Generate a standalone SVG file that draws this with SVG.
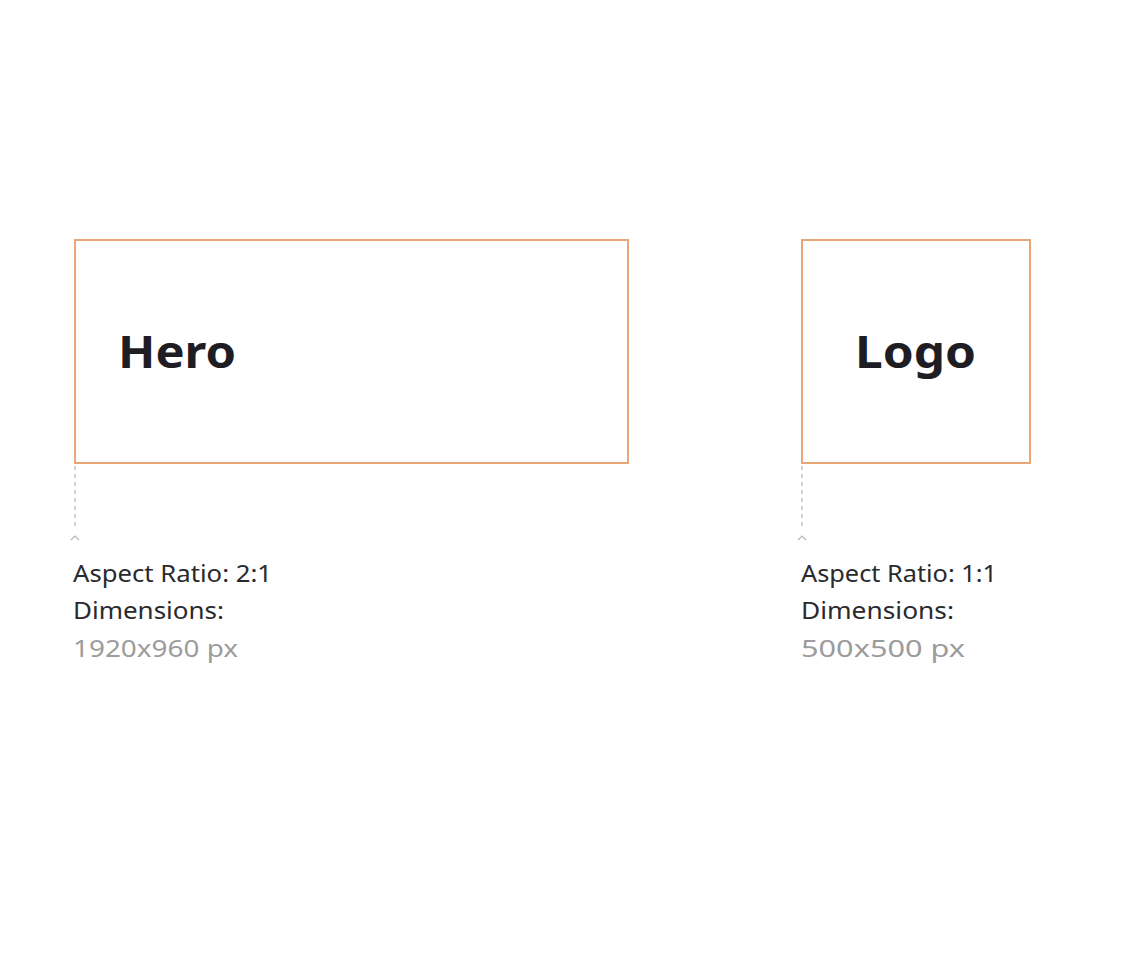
<svg xmlns="http://www.w3.org/2000/svg" width="1143" height="958" viewBox="0 0 1143 958">
<style>
.box{fill:#fff;stroke:#e9a679;stroke-width:2}
.title{font-family:"Noto Sans","DejaVu Sans",sans-serif;font-weight:700;font-size:44px;fill:#1f1d24}
.lbl{font-family:"Noto Sans","DejaVu Sans",sans-serif;font-size:23px;fill:#2a2a2e}
.dim{font-family:"Noto Sans","DejaVu Sans",sans-serif;font-size:23px;fill:#9c9c9c}
.lead{stroke:#c4c4c4;stroke-width:1.5;stroke-dasharray:4 4;fill:none}
.chev{stroke:#b8b8b8;stroke-width:1.2;fill:none}
</style>
<rect width="1143" height="958" fill="#fff"/>
<g id="hero">
<rect class="box" x="75" y="240" width="553" height="223"/>
<text class="title" x="118" y="368" textLength="118" lengthAdjust="spacingAndGlyphs">Hero</text>
</g>
<g id="logo">
<rect class="box" x="802" y="240" width="228" height="223"/>
<text class="title" x="855" y="368" textLength="121" lengthAdjust="spacingAndGlyphs">Logo</text>
</g>
<g id="connectors">
<line class="lead" x1="75" y1="466" x2="75" y2="530"/>
<polyline class="chev" points="71,540 75,536 79,540"/>
<line class="lead" x1="802" y1="466" x2="802" y2="530"/>
<polyline class="chev" points="798,540 802,536 806,540"/>
</g>
<g id="hero-info">
<text class="lbl" x="73" y="582" textLength="199" lengthAdjust="spacingAndGlyphs">Aspect Ratio: 2:1</text>
<text class="lbl" x="73" y="619" textLength="151" lengthAdjust="spacingAndGlyphs">Dimensions:</text>
<text class="dim" x="73" y="657" textLength="165" lengthAdjust="spacingAndGlyphs">1920x960 px</text>
</g>
<g id="logo-info">
<text class="lbl" x="801" y="582" textLength="196" lengthAdjust="spacingAndGlyphs">Aspect Ratio: 1:1</text>
<text class="lbl" x="801" y="619" textLength="153" lengthAdjust="spacingAndGlyphs">Dimensions:</text>
<text class="dim" x="801" y="657" textLength="164" lengthAdjust="spacingAndGlyphs">500x500 px</text>
</g>
</svg>
